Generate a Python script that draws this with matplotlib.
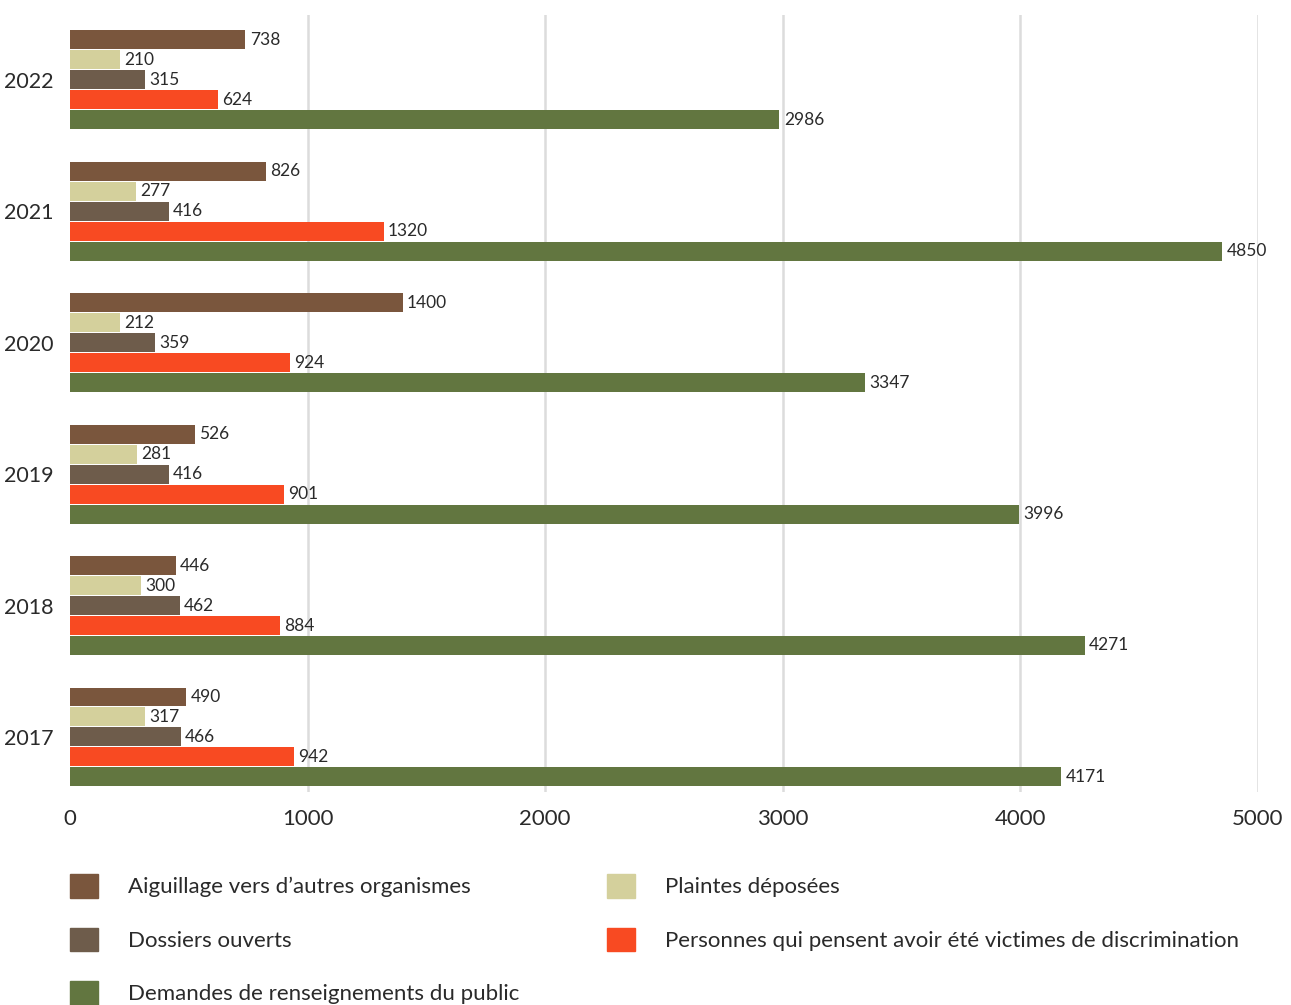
import numpy as np
import matplotlib.pyplot as plt
from matplotlib.patches import Patch

plt.rcParams['font.family'] = ['Lato', 'DejaVu Sans']

years = ['2017', '2018', '2019', '2020', '2021', '2022']

# one list per series, same order as years
aiguillage = [490, 446, 526, 1400, 826, 738]
plaintes = [317, 300, 281, 212, 277, 210]
dossiers = [466, 462, 416, 359, 416, 315]
personnes = [942, 884, 901, 924, 1320, 624]
demandes = [4171, 4271, 3996, 3347, 4850, 2986]

series = [
    ('Aiguillage vers d\u2019autres organismes', aiguillage, '#7a563d'),
    ('Plaintes déposées', plaintes, '#d4d09c'),
    ('Dossiers ouverts', dossiers, '#6e5c4b'),
    ('Personnes qui pensent avoir été victimes de discrimination', personnes, '#f84a22'),
    ('Demandes de renseignements du public', demandes, '#627640'),
]

txt = '#2a2a2a'

fig = plt.figure(figsize=(12.91, 10.05), dpi=100)
W, H = 1291, 1005
ax = fig.add_axes([70 / W, (H - 792) / H, (1258 - 70) / W, (792 - 15) / H])

y = np.arange(len(years))
pitch = 0.152
for k, (name, vals, col) in enumerate(series):
    pos = y + (2 - k) * pitch
    bars = ax.barh(pos, vals, height=pitch * 0.95, color=col, zorder=2)
    for b, v in zip(bars, vals):
        ax.text(v + 18, b.get_y() + b.get_height() / 2, str(v),
                va='center', ha='left', fontsize=12.5, color=txt)

ax.set_xlim(0, 5000)
ax.set_ylim(-0.419, 5.494)
ax.set_xticks([0, 1000, 2000, 3000, 4000, 5000])
ax.set_yticks(y)
ax.set_yticklabels(years)
ax.tick_params(length=0, labelsize=16, colors=txt)
ax.tick_params(axis='y', labelsize=15.5, pad=12)
ax.tick_params(axis='x', pad=12)
for s in ax.spines.values():
    s.set_visible(False)
for gx in [1000, 2000, 3000, 4000, 5000]:
    ax.axvline(gx, color='#dcdcdc', lw=1.8, zorder=1)

h = [Patch(color=c) for _, _, c in series]
lab = [n for n, _, _ in series]
left = [0, 2, 4]
right = [1, 3]
kw = dict(frameon=False, fontsize=16, handlelength=1.25, handleheight=1.25,
          handletextpad=1.35, labelspacing=1.35, borderpad=0, borderaxespad=0,
          loc='upper left', labelcolor=txt)
fig.legend([h[i] for i in left], [lab[i] for i in left],
           bbox_to_anchor=(70 / W, (H - 874) / H), **kw)
fig.legend([h[i] for i in right], [lab[i] for i in right],
           bbox_to_anchor=(607 / W, (H - 874) / H), **kw)

fig.savefig('out.png', dpi=100, facecolor='white')
